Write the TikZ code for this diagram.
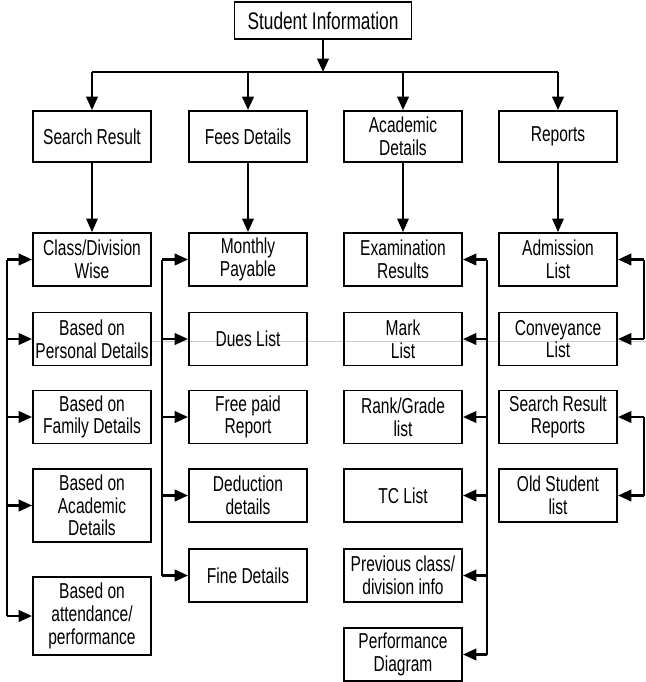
\documentclass[tikz,border=0pt]{standalone}
\usepackage{fontspec}
\setmainfont{Liberation Sans}[FakeStretch=0.72]
\usetikzlibrary{arrows.meta}
\begin{document}
\begin{tikzpicture}[x=0.75pt,y=-0.75pt,
  box/.style={draw, line width=1.4pt, minimum width=88.5pt, minimum height=39.75pt,
    inner sep=0pt, align=center, font=\fontsize{16.2pt}{17pt}\selectfont},
  headbox/.style={box, minimum height=38.25pt},
  rootbox/.style={box, minimum width=132.75pt, minimum height=27.75pt,
    font=\fontsize{18pt}{19pt}\selectfont},
  tall/.style={minimum height=54.75pt},
  taller/.style={minimum height=58.5pt},
  conn/.style={line width=2pt},
  arr/.style={line width=2pt, -{Triangle[length=10pt,width=8.5pt]}},
  droparr/.style={line width=1.4pt, -{Triangle[length=10pt,width=8.5pt]}}
]
\useasboundingbox (0,0) rectangle (646,682);

% faint horizontal rule across the middle
\draw[gray!40, line width=0.6pt] (152,341) -- (646,341);

% root and first level
\node[rootbox] (root) at (323,20.5) {Student Information};
\node[headbox] (sres) at (92,136.5)  {Search Result};
\node[headbox] (fees) at (248,136.5) {Fees Details};
\node[headbox] (acad) at (403,136.5) {Academic\\Details};
\node[headbox] (reps) at (558,136.5) {Reports};

% search result column
\node[box] (cdw) at (92,259.5) {Class/Division\\Wise};
\node[box] (bpd) at (92,339)   {Based on\\Personal Details};
\node[box] (bfd) at (92,417)   {Based on\\Family Details};
\node[box, tall] (bad) at (92,505.5) {Based on\\Academic\\Details};
\node[box, taller] (bap) at (92,616) {Based on\\attendance/\\performance};

% fees column
\node[box] (mpy) at (248,259.5) {Monthly\\Payable};
\node[box] (dues) at (248,339)  {Dues List};
\node[box] (fpr) at (248,417)   {Free paid\\Report};
\node[box] (ded) at (248,495.5) {Deduction\\details};
\node[box] (fine) at (248,575.5) {Fine Details};

% academic column
\node[box] (exr) at (403,259.5) {Examination\\Results};
\node[box] (mkl) at (403,339)   {Mark\\List};
\node[box] (rgl) at (403,417)   {Rank/Grade\\list};
\node[box] (tcl) at (403,495.5) {TC List};
\node[box] (pcd) at (403,575.5) {Previous class/\\division info};
\node[box] (pfd) at (403,654.5) {Performance\\Diagram};

% reports column
\node[box] (adl) at (558,259.5) {Admission\\List};
\node[box] (cvl) at (558,339)   {Conveyance\\List};
\node[box] (srr) at (558,417)   {Search Result\\Reports};
\node[box] (osl) at (558,495.5) {Old Student\\list};

% root to first level
\coordinate (hub) at (323,72);
\draw[arr] (root.south) -- (root.south |- hub);
\draw[conn] (sres.north |- hub) -- (reps.north |- hub);
\foreach \n in {sres,fees,acad,reps}
  \draw[arr] (\n.north |- hub) -- (\n.north);

% first level to the top of each column
\draw[droparr] (sres.south) -- (cdw.north);
\draw[droparr] (fees.south) -- (mpy.north);
\draw[droparr] (acad.south) -- (exr.north);
\draw[droparr] (reps.south) -- (adl.north);

% bracket rails
\coordinate (railA) at (7,0);
\coordinate (railB) at (162,0);
\coordinate (railC) at (487,0);
\coordinate (railD) at (644,0);

\draw[conn] (railA |- cdw.west) -- (railA |- bap.west);
\foreach \n in {cdw,bpd,bfd,bad,bap}
  \draw[arr] (railA |- \n.west) -- (\n.west);

\draw[conn] (railB |- mpy.west) -- (railB |- fine.west);
\foreach \n in {mpy,dues,fpr,ded,fine}
  \draw[arr] (railB |- \n.west) -- (\n.west);

\draw[conn] (railC |- exr.east) -- (railC |- pfd.east);
\foreach \n in {exr,mkl,rgl,tcl,pcd,pfd}
  \draw[arr] (railC |- \n.east) -- (\n.east);

\draw[conn] (railD |- adl.east) -- (railD |- cvl.east);
\foreach \n in {adl,cvl}
  \draw[arr] (railD |- \n.east) -- (\n.east);

\draw[conn] (railD |- srr.east) -- (railD |- osl.east);
\foreach \n in {srr,osl}
  \draw[arr] (railD |- \n.east) -- (\n.east);
\end{tikzpicture}
\end{document}
